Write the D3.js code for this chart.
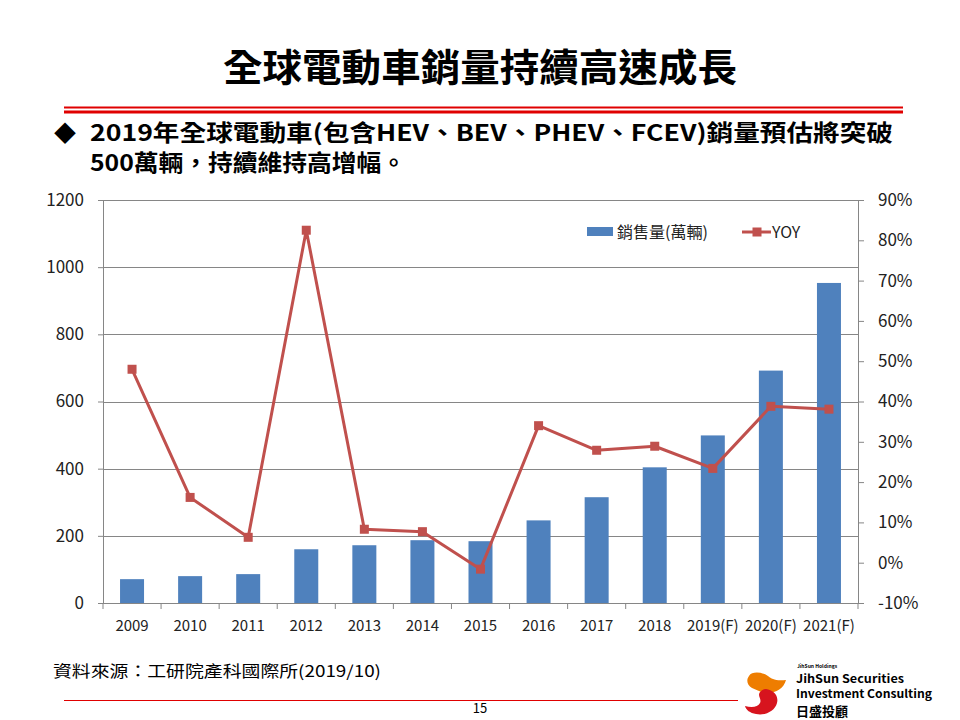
<!DOCTYPE html>
<html lang="zh-Hant">
<head>
<meta charset="UTF-8">
<title>全球電動車銷量持續高速成長</title>
<script src="https://cdnjs.cloudflare.com/ajax/libs/d3/7.8.5/d3.min.js"></script>
<style>
    body { margin: 0; background: #fff; }
    svg { display: block; }
    text { font-family: "Noto Sans CJK TC", "Noto Sans", sans-serif; }
</style>
</head>
<body>
<script>

    const years = ["2009", "2010", "2011", "2012", "2013", "2014", "2015",
                   "2016", "2017", "2018", "2019(F)", "2020(F)", "2021(F)"]
    // 銷售量 (萬輛)
    const sales = [71, 80, 86, 160, 172, 187, 184, 246, 315, 404, 499, 692, 953]
    // YOY (%)
    const yoy = [48.0, 16.2, 6.3, 82.5, 8.3, 7.7, -1.6, 34.0, 27.9, 28.9, 23.4, 38.8, 38.1]

    const leftTicks = [0, 200, 400, 600, 800, 1000, 1200]
    const rightTicks = [-10, 0, 10, 20, 30, 40, 50, 60, 70, 80, 90]

    const W = 960, H = 720
    const plot = {left: 103, right: 858, top: 200, bottom: 603}
    const blue = "#4F81BD", red = "#C0504D", grid = "#868686"

    const svg = d3.select("body").append("svg")
        .attr("width", W)
        .attr("height", H)

    // title
    svg.append("text")
        .attr("x", 480).attr("y", 81)
        .attr("text-anchor", "middle")
        .attr("font-size", 38).attr("font-weight", "bold")
        .attr("textLength", 514).attr("lengthAdjust", "spacingAndGlyphs")
        .text("全球電動車銷量持續高速成長")

    // red rules under title
    svg.append("rect").attr("x", 64).attr("y", 106.5).attr("width", 839).attr("height", 2).attr("fill", "#E00000")
    svg.append("rect").attr("x", 64).attr("y", 110.5).attr("width", 839).attr("height", 3).attr("fill", "#E00000")

    // bullet
    svg.append("text")
        .attr("x", 54).attr("y", 141)
        .attr("font-size", 22)
        .text("◆")
    svg.append("text")
        .attr("x", 90).attr("y", 141)
        .attr("font-size", 22.5).attr("font-weight", "bold")
        .attr("textLength", 803).attr("lengthAdjust", "spacingAndGlyphs")
        .text("2019年全球電動車(包含HEV、BEV、PHEV、FCEV)銷量預估將突破")
    svg.append("text")
        .attr("x", 90).attr("y", 171)
        .attr("font-size", 22.5).attr("font-weight", "bold")
        .attr("textLength", 316).attr("lengthAdjust", "spacingAndGlyphs")
        .text("500萬輛，持續維持高增幅。")

    // scales
    let x = d3.scaleBand().domain(years).range([plot.left, plot.right])
    let y = d3.scaleLinear().domain([0, 1200]).range([plot.bottom, plot.top])
    let y2 = d3.scaleLinear().domain([-10, 90]).range([plot.bottom, plot.top])
    const barW = 24

    // gridlines
    svg.append("g")
        .selectAll("line")
        .data(leftTicks.slice(1))
        .join("line")
            .attr("x1", plot.left).attr("x2", plot.right)
            .attr("y1", d => Math.round(y(d)) + 0.5).attr("y2", d => Math.round(y(d)) + 0.5)
            .attr("stroke", grid).attr("stroke-width", 1)

    // bars
    svg.append("g")
        .selectAll("rect")
        .data(sales)
        .join("rect")
            .attr("x", (d, i) => x(years[i]) + (x.bandwidth() - barW) / 2)
            .attr("width", barW)
            .attr("y", d => y(d))
            .attr("height", d => y(0) - y(d))
            .attr("fill", blue)

    // left axis
    let axL = svg.append("g")
        .attr("transform", `translate(${plot.left},0)`)
        .call(d3.axisLeft(y).tickValues(leftTicks).tickSize(5).tickPadding(14)
            .tickFormat(d3.format("d")))
    // right axis
    let axR = svg.append("g")
        .attr("transform", `translate(${plot.right},0)`)
        .call(d3.axisRight(y2).tickValues(rightTicks).tickSize(6).tickPadding(14)
            .tickFormat(d => d + "%"))
    // bottom axis
    let axB = svg.append("g")
        .attr("transform", `translate(0,${plot.bottom})`)
        .call(d3.axisBottom(x).tickSize(0).tickPadding(17))
    svg.append("g")
        .selectAll("line")
        .data(d3.range(years.length + 1))
        .join("line")
            .attr("x1", i => plot.left + i * x.step())
            .attr("x2", i => plot.left + i * x.step())
            .attr("y1", plot.bottom).attr("y2", plot.bottom + 6)
            .attr("stroke", grid)

    ;[axL, axR, axB].forEach(g => {
        g.selectAll(".domain").attr("stroke", grid)
        g.selectAll(".tick line").attr("stroke", grid)
        g.selectAll("text")
            .attr("fill", "#222")
            .attr("font-family", "\"Noto Sans CJK TC\", sans-serif")
    })
    axL.selectAll("text").attr("font-size", 17)
    axR.selectAll("text").attr("font-size", 17)
    axB.selectAll("text").attr("font-size", 15)
    axB.select(".domain").attr("d", `M${plot.left},0.5H${plot.right}`)

    // YOY line
    let line = d3.line()
        .x((d, i) => x(years[i]) + x.bandwidth() / 2)
        .y(d => y2(d))
    svg.append("path")
        .datum(yoy)
        .attr("d", line)
        .attr("fill", "none")
        .attr("stroke", red)
        .attr("stroke-width", 3)
        .attr("stroke-linejoin", "round")
    svg.append("g")
        .selectAll("rect")
        .data(yoy)
        .join("rect")
            .attr("x", (d, i) => x(years[i]) + x.bandwidth() / 2 - 4.5)
            .attr("y", d => y2(d) - 4.5)
            .attr("width", 9).attr("height", 9)
            .attr("fill", red)

    // legend
    let lg = svg.append("g")
    lg.append("rect").attr("x", 587).attr("y", 227).attr("width", 26).attr("height", 9).attr("fill", blue)
    lg.append("text").attr("x", 617).attr("y", 238).attr("font-size", 16).attr("fill", "#222")
        .text("銷售量(萬輛)")
    lg.append("line").attr("x1", 742).attr("x2", 771).attr("y1", 232).attr("y2", 232)
        .attr("stroke", red).attr("stroke-width", 3)
    lg.append("rect").attr("x", 752.5).attr("y", 227.5).attr("width", 9).attr("height", 9).attr("fill", red)
    lg.append("text").attr("x", 772).attr("y", 238).attr("font-size", 16).attr("fill", "#222")
        .text("YOY")

    // source
    svg.append("text")
        .attr("x", 53).attr("y", 677)
        .attr("font-size", 16)
        .attr("textLength", 328).attr("lengthAdjust", "spacingAndGlyphs")
        .text("資料來源：工研院產科國際所(2019/10)")

    // footer rule and page number
    svg.append("line").attr("x1", 64).attr("x2", 738).attr("y1", 700.5).attr("y2", 700.5)
        .attr("stroke", "#E00000").attr("stroke-width", 1.2)
    svg.append("text").attr("x", 480).attr("y", 713).attr("text-anchor", "middle")
        .attr("font-size", 13).text("15")

    // logo
    let logo = svg.append("g")
    logo.append("path")
        .attr("d", "M749,676 C752,671 762,672 768,676 C772,679 775,681 786,680 C784,688 776,693 768,693 C762,693 757,690 752,688 C747,685 746,680 749,676 Z")
        .attr("fill", "#EE7D00")
    logo.append("path")
        .attr("d", "M766,689 C773,690 779,695 777,703 C775,711 765,716 756,714 C750,713 746,710 745,706 C752,708 758,707 760,703 C762,699 757,696 760,692 C762,690 764,689 766,689 Z")
        .attr("fill", "#D7141E")
    logo.append("text").attr("x", 797).attr("y", 668).attr("font-size", 5).attr("font-weight", "bold")
        .attr("font-family", "\"Open Sans\", sans-serif").text("JihSun Holdings")
    logo.append("text").attr("x", 796).attr("y", 683).attr("font-size", 11.5).attr("font-weight", "bold")
        .attr("font-family", "\"Open Sans\", sans-serif")
        .attr("textLength", 108).attr("lengthAdjust", "spacingAndGlyphs").text("JihSun Securities")
    logo.append("text").attr("x", 796).attr("y", 698).attr("font-size", 11.5).attr("font-weight", "bold")
        .attr("font-family", "\"Open Sans\", sans-serif")
        .attr("textLength", 136).attr("lengthAdjust", "spacingAndGlyphs").text("Investment Consulting")
    logo.append("text").attr("x", 796).attr("y", 716).attr("font-size", 13).attr("font-weight", "bold")
        .text("日盛投顧")

</script>
</body>
</html>
